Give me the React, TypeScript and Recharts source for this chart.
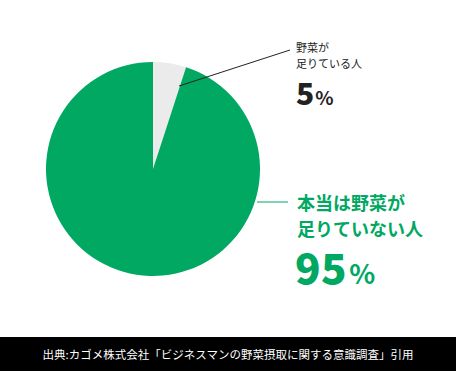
import React from "react";
import { PieChart, Pie, Cell } from "recharts";

const categories = ["野菜が足りている人", "本当は野菜が足りていない人"];
const values = [5, 95];
const colors = ["#EBEBEB", "#00A862"];
const labelLines = [
  ["野菜が", "足りている人"],
  ["本当は野菜が", "足りていない人"],
];
const source = "出典:カゴメ株式会社「ビジネスマンの野菜摂取に関する意識調査」引用";

const data = categories.map((name, i) => ({ name, value: values[i] }));
const FONT = "'Noto Sans CJK JP', 'Noto Sans', sans-serif";

const renderLabel = (props: any) => {
  const { cx, cy, outerRadius, index, value } = props;
  if (index === 0) {
    const sx = cx + 26;
    const sy = cy - 83;
    return (
      <g>
        <line x1={sx} y1={sy} x2={290} y2={50} stroke="#222" strokeWidth={1} />
        <text x={296} y={52} fontSize={11} fill="#222" fontFamily={FONT}>{labelLines[0][0]}</text>
        <text x={296} y={68} fontSize={11} fill="#222" fontFamily={FONT}>{labelLines[0][1]}</text>
        <text x={296} y={105} fontFamily={FONT} fill="#222" fontWeight={900}>
          <tspan fontSize={30}>{value}</tspan>
          <tspan fontSize={19} dx={1} fontWeight="bold">%</tspan>
        </text>
      </g>
    );
  }
  const ex = cx + outerRadius - 3;
  return (
    <g>
      <line x1={ex} y1={202} x2={288} y2={202} stroke="#00A862" strokeWidth={1} />
      <text x={297} y={210} fontSize={18} fill="#00A862" fontFamily={FONT} fontWeight="bold">{labelLines[1][0]}</text>
      <text x={297} y={236} fontSize={18} fill="#00A862" fontFamily={FONT} fontWeight="bold">{labelLines[1][1]}</text>
      <text x={295} y={284} fontFamily={FONT} fill="#00A862" fontWeight={900}>
        <tspan fontSize={42} letterSpacing={0.5}>{value}</tspan>
        <tspan fontSize={27} dx={2} fontWeight="bold">%</tspan>
      </text>
    </g>
  );
};

export default function App() {
  return (
    <div style={{ position: "absolute", left: 0, top: 0, width: 456, height: 371, background: "#fff" }}>
      <PieChart width={456} height={371}>
        <Pie
          data={data}
          dataKey="value"
          nameKey="name"
          cx={148}
          cy={164}
          outerRadius={107}
          startAngle={90}
          endAngle={-270}
          stroke="none"
          isAnimationActive={false}
          labelLine={false}
          label={renderLabel}
        >
          {data.map((d, i) => (
            <Cell key={d.name} fill={colors[i]} />
          ))}
        </Pie>
      </PieChart>
      <div
        style={{
          position: "absolute",
          left: 0,
          top: 337,
          width: 456,
          height: 34,
          background: "#000",
          color: "#fff",
          fontFamily: FONT,
          fontSize: 11.5,
          lineHeight: "34px",
          textAlign: "center",
        }}
      >
        {source}
      </div>
    </div>
  );
}
